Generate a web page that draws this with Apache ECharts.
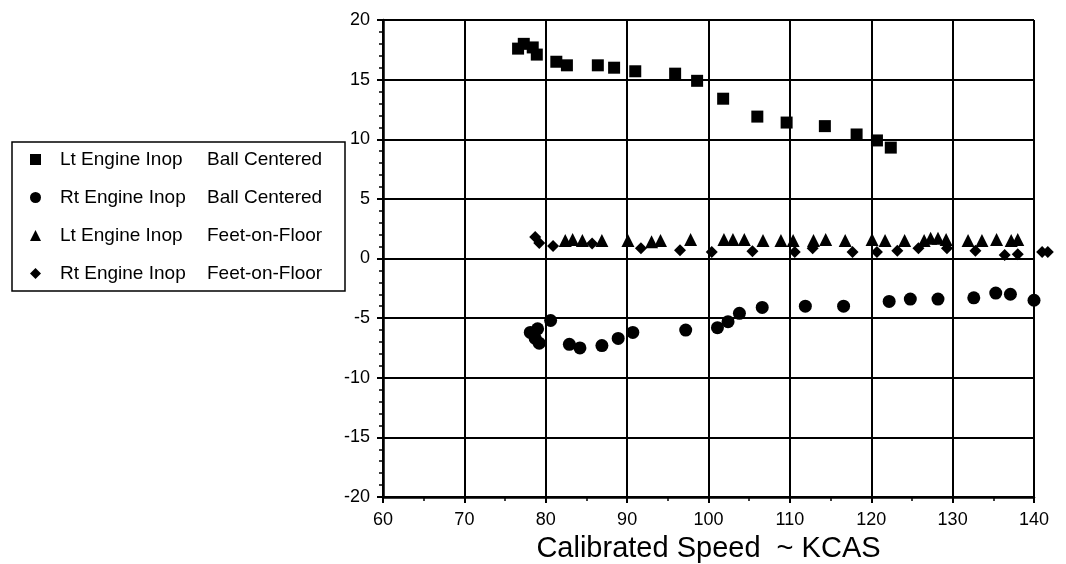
<!DOCTYPE html>
<html>
<head>
<meta charset="utf-8">
<script src="https://cdn.jsdelivr.net/npm/echarts@6/dist/echarts.min.js"></script>
<style>
  html, body { margin: 0; padding: 0; background: #fff; }
  #chart { width: 1066px; height: 564px; }
</style>
</head>
<body>
<div id="chart"></div>
<script>
// Lt Engine Inop, Ball Centered (squares)
const ltBallData = [
  [76.6, 17.6], [77.3, 18.0], [78.4, 17.7], [78.9, 17.1], [81.3, 16.5], [82.6, 16.2],
  [86.4, 16.2], [88.4, 16.0], [91.0, 15.7], [95.9, 15.5], [98.6, 14.9], [101.8, 13.4],
  [106.0, 11.9], [109.6, 11.4], [114.3, 11.1], [118.2, 10.4], [120.7, 9.9], [122.4, 9.3]
];
// Rt Engine Inop, Ball Centered (circles)
const rtBallData = [
  [78.1, -6.2], [79.0, -5.9], [78.7, -6.7], [79.2, -7.1], [80.6, -5.2], [82.9, -7.2],
  [84.2, -7.5], [86.9, -7.3], [88.9, -6.7], [90.7, -6.2], [97.2, -6.0], [101.1, -5.8],
  [102.4, -5.3], [103.8, -4.6], [106.6, -4.1], [111.9, -4.0], [116.6, -4.0], [122.2, -3.6],
  [124.8, -3.4], [128.2, -3.4], [132.6, -3.3], [135.3, -2.9], [137.1, -3.0], [140.0, -3.5]
];
// Lt Engine Inop, Feet-on-Floor (triangles)
const ltFeetData = [
  [82.4, 1.5], [83.3, 1.6], [84.5, 1.5], [86.9, 1.5], [90.1, 1.5], [93.0, 1.4],
  [94.1, 1.5], [97.8, 1.6], [101.9, 1.6], [103.0, 1.6], [104.4, 1.6], [106.7, 1.5],
  [108.9, 1.5], [110.4, 1.5], [112.9, 1.5], [114.4, 1.6], [116.8, 1.5], [120.1, 1.6],
  [121.7, 1.5], [124.1, 1.5], [126.5, 1.5], [127.3, 1.7], [128.2, 1.7], [129.2, 1.6],
  [131.9, 1.5], [133.6, 1.5], [135.4, 1.6], [137.2, 1.5], [138.0, 1.6]
];
// Rt Engine Inop, Feet-on-Floor (diamonds)
const rtFeetData = [
  [78.7, 1.8], [79.2, 1.3], [80.9, 1.05], [85.7, 1.25], [91.7, 0.85], [96.5, 0.7],
  [100.4, 0.55], [105.4, 0.6], [110.6, 0.55], [112.8, 0.85], [117.7, 0.55], [120.7, 0.55],
  [123.2, 0.65], [125.8, 0.85], [129.3, 0.85], [132.8, 0.65], [136.4, 0.3], [138.0, 0.35],
  [141.0, 0.55], [141.7, 0.55]
];

const engineNames = ['Lt Engine Inop', 'Rt Engine Inop', 'Lt Engine Inop', 'Rt Engine Inop'];
const conditionNames = ['Ball Centered', 'Ball Centered', 'Feet-on-Floor', 'Feet-on-Floor'];
const symbols = ['rect', 'circle', 'triangle', 'diamond'];
const symbolSizes = [12, 13, 13, 12];
const allData = [ltBallData, rtBallData, ltFeetData, rtFeetData];

const font = '"Liberation Sans", Arial, Helvetica, sans-serif';

const series = allData.map((d, i) => ({
  name: engineNames[i] + '|' + conditionNames[i],
  type: 'scatter',
  data: d,
  symbol: symbols[i],
  symbolSize: symbolSizes[i],
  clip: false,
  itemStyle: { color: '#000', opacity: 1 }
}));

const chart = echarts.init(document.getElementById('chart'));
chart.setOption({
  animation: false,
  backgroundColor: '#fff',
  grid: { left: 383, right: 32, top: 20, bottom: 67, containLabel: false, outerBoundsMode: 'none' },
  legend: {
    orient: 'vertical',
    left: 12,
    top: 142,
    padding: [8, 16, 8, 18],
    borderColor: '#000',
    borderWidth: 1.5,
    itemWidth: 11,
    itemHeight: 11,
    itemGap: 19,
    itemStyle: { color: '#000' },
    data: series.map((s, i) => ({ name: s.name, icon: symbols[i] })),
    formatter: name => {
      const parts = name.split('|');
      return '{a|' + parts[0] + '}{b|' + parts[1] + '}';
    },
    textStyle: {
      fontFamily: font,
      fontSize: 19,
      color: '#000',
      padding: [0, 0, 0, 14],
      rich: {
        a: { width: 147, lineHeight: 22, fontFamily: font, fontSize: 19, color: '#000' },
        b: { width: 122, lineHeight: 22, fontFamily: font, fontSize: 19, color: '#000' }
      }
    }
  },
  xAxis: {
    type: 'value',
    min: 60,
    max: 140,
    interval: 10,
    name: 'Calibrated Speed  ~ KCAS',
    nameLocation: 'middle',
    nameGap: 37,
    nameTextStyle: { fontFamily: font, fontSize: 29, color: '#000' },
    axisLine: { show: true, onZero: false, lineStyle: { color: '#000', width: 2.5 } },
    axisTick: { show: true, length: 6, lineStyle: { color: '#000', width: 2 } },
    minorTick: { show: true, splitNumber: 2, length: 4, lineStyle: { color: '#000', width: 1.5 } },
    axisLabel: { fontFamily: font, fontSize: 18, color: '#000', margin: 14 },
    splitLine: { show: true, lineStyle: { color: '#000', width: 2 } }
  },
  yAxis: {
    type: 'value',
    min: -20,
    max: 20,
    interval: 5,
    axisLine: { show: true, onZero: false, lineStyle: { color: '#000', width: 2.5 } },
    axisTick: { show: true, length: 6, lineStyle: { color: '#000', width: 2 } },
    minorTick: { show: true, splitNumber: 5, length: 4, lineStyle: { color: '#000', width: 1.5 } },
    axisLabel: { fontFamily: font, fontSize: 18, color: '#000', margin: 13 },
    splitLine: { show: true, lineStyle: { color: '#000', width: 2 } }
  },
  series: series
});
</script>
</body>
</html>
